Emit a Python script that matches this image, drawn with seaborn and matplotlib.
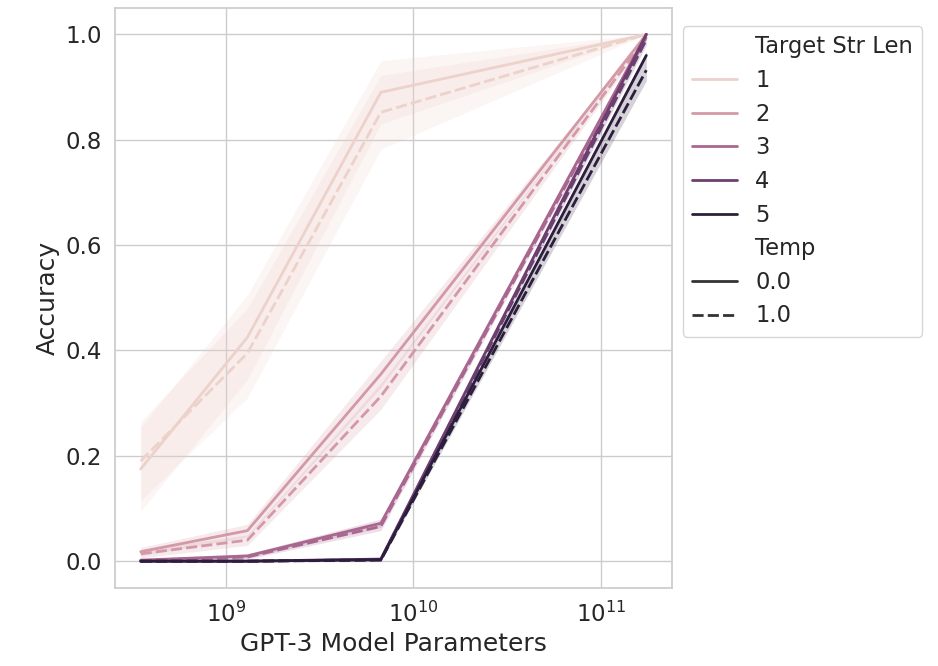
import pandas as pd
import numpy as np
import matplotlib.pyplot as plt
import seaborn as sns

# -----------------------------
# DATA
# -----------------------------
params = [3.5e8, 1.3e9, 6.7e9, 1.75e11]
str_lens = [1, 2, 3, 4, 5]
temps = [0.0, 1.0]

# mean accuracy per (len, temp)
acc_t0 = {
    1: [0.175, 0.425, 0.890, 1.000],
    2: [0.018, 0.058, 0.355, 1.000],
    3: [0.002, 0.010, 0.072, 1.000],
    4: [0.000, 0.000, 0.004, 1.000],
    5: [0.000, 0.000, 0.003, 0.960],
}
acc_t1 = {
    1: [0.190, 0.395, 0.852, 1.000],
    2: [0.014, 0.040, 0.313, 0.995],
    3: [0.001, 0.008, 0.066, 0.995],
    4: [0.000, 0.000, 0.003, 0.990],
    5: [0.000, 0.000, 0.002, 0.932],
}
# confidence band half widths
band_t0 = {
    1: [0.080, 0.080, 0.060, 0.0],
    2: [0.008, 0.012, 0.025, 0.0],
    3: [0.002, 0.004, 0.008, 0.0],
    4: [0.0, 0.0, 0.002, 0.0],
    5: [0.0, 0.0, 0.002, 0.008],
}
band_t1 = {
    1: [0.075, 0.085, 0.070, 0.0],
    2: [0.008, 0.010, 0.025, 0.005],
    3: [0.002, 0.004, 0.008, 0.005],
    4: [0.0, 0.0, 0.002, 0.010],
    5: [0.0, 0.0, 0.002, 0.020],
}

rows = []
for L in str_lens:
    for t, acc, band in [(0.0, acc_t0, band_t0), (1.0, acc_t1, band_t1)]:
        for i, p in enumerate(params):
            rows.append({"GPT-3 Model Parameters": p, "Accuracy": acc[L][i],
                         "lo": acc[L][i] - band[L][i], "hi": min(acc[L][i] + band[L][i], 1.0),
                         "Target Str Len": L, "Temp": t})
df = pd.DataFrame(rows)

# -----------------------------
# PLOT
# -----------------------------
sns.set_theme(style="whitegrid", font_scale=1.5)
fig = plt.figure(figsize=(9.38, 6.66), dpi=100)
ax = fig.add_axes([0.123, 0.117, 0.593, 0.871])

cmap = sns.cubehelix_palette(as_cmap=True)
norm = plt.Normalize(min(str_lens), max(str_lens))

for (L, t), g in df.groupby(["Target Str Len", "Temp"]):
    ax.fill_between(g["GPT-3 Model Parameters"], g["lo"], g["hi"],
                    color=cmap(norm(L)), alpha=0.2, linewidth=0)

sns.lineplot(data=df, x="GPT-3 Model Parameters", y="Accuracy",
             hue="Target Str Len", style="Temp", palette=cmap,
             errorbar=None, linewidth=2, ax=ax)
ax.set_xscale("log")

sns.move_legend(ax, "upper left", bbox_to_anchor=(1.0, 0.988),
                fontsize=16.3, labelspacing=0.47)

plt.savefig("out.png", dpi=100)
